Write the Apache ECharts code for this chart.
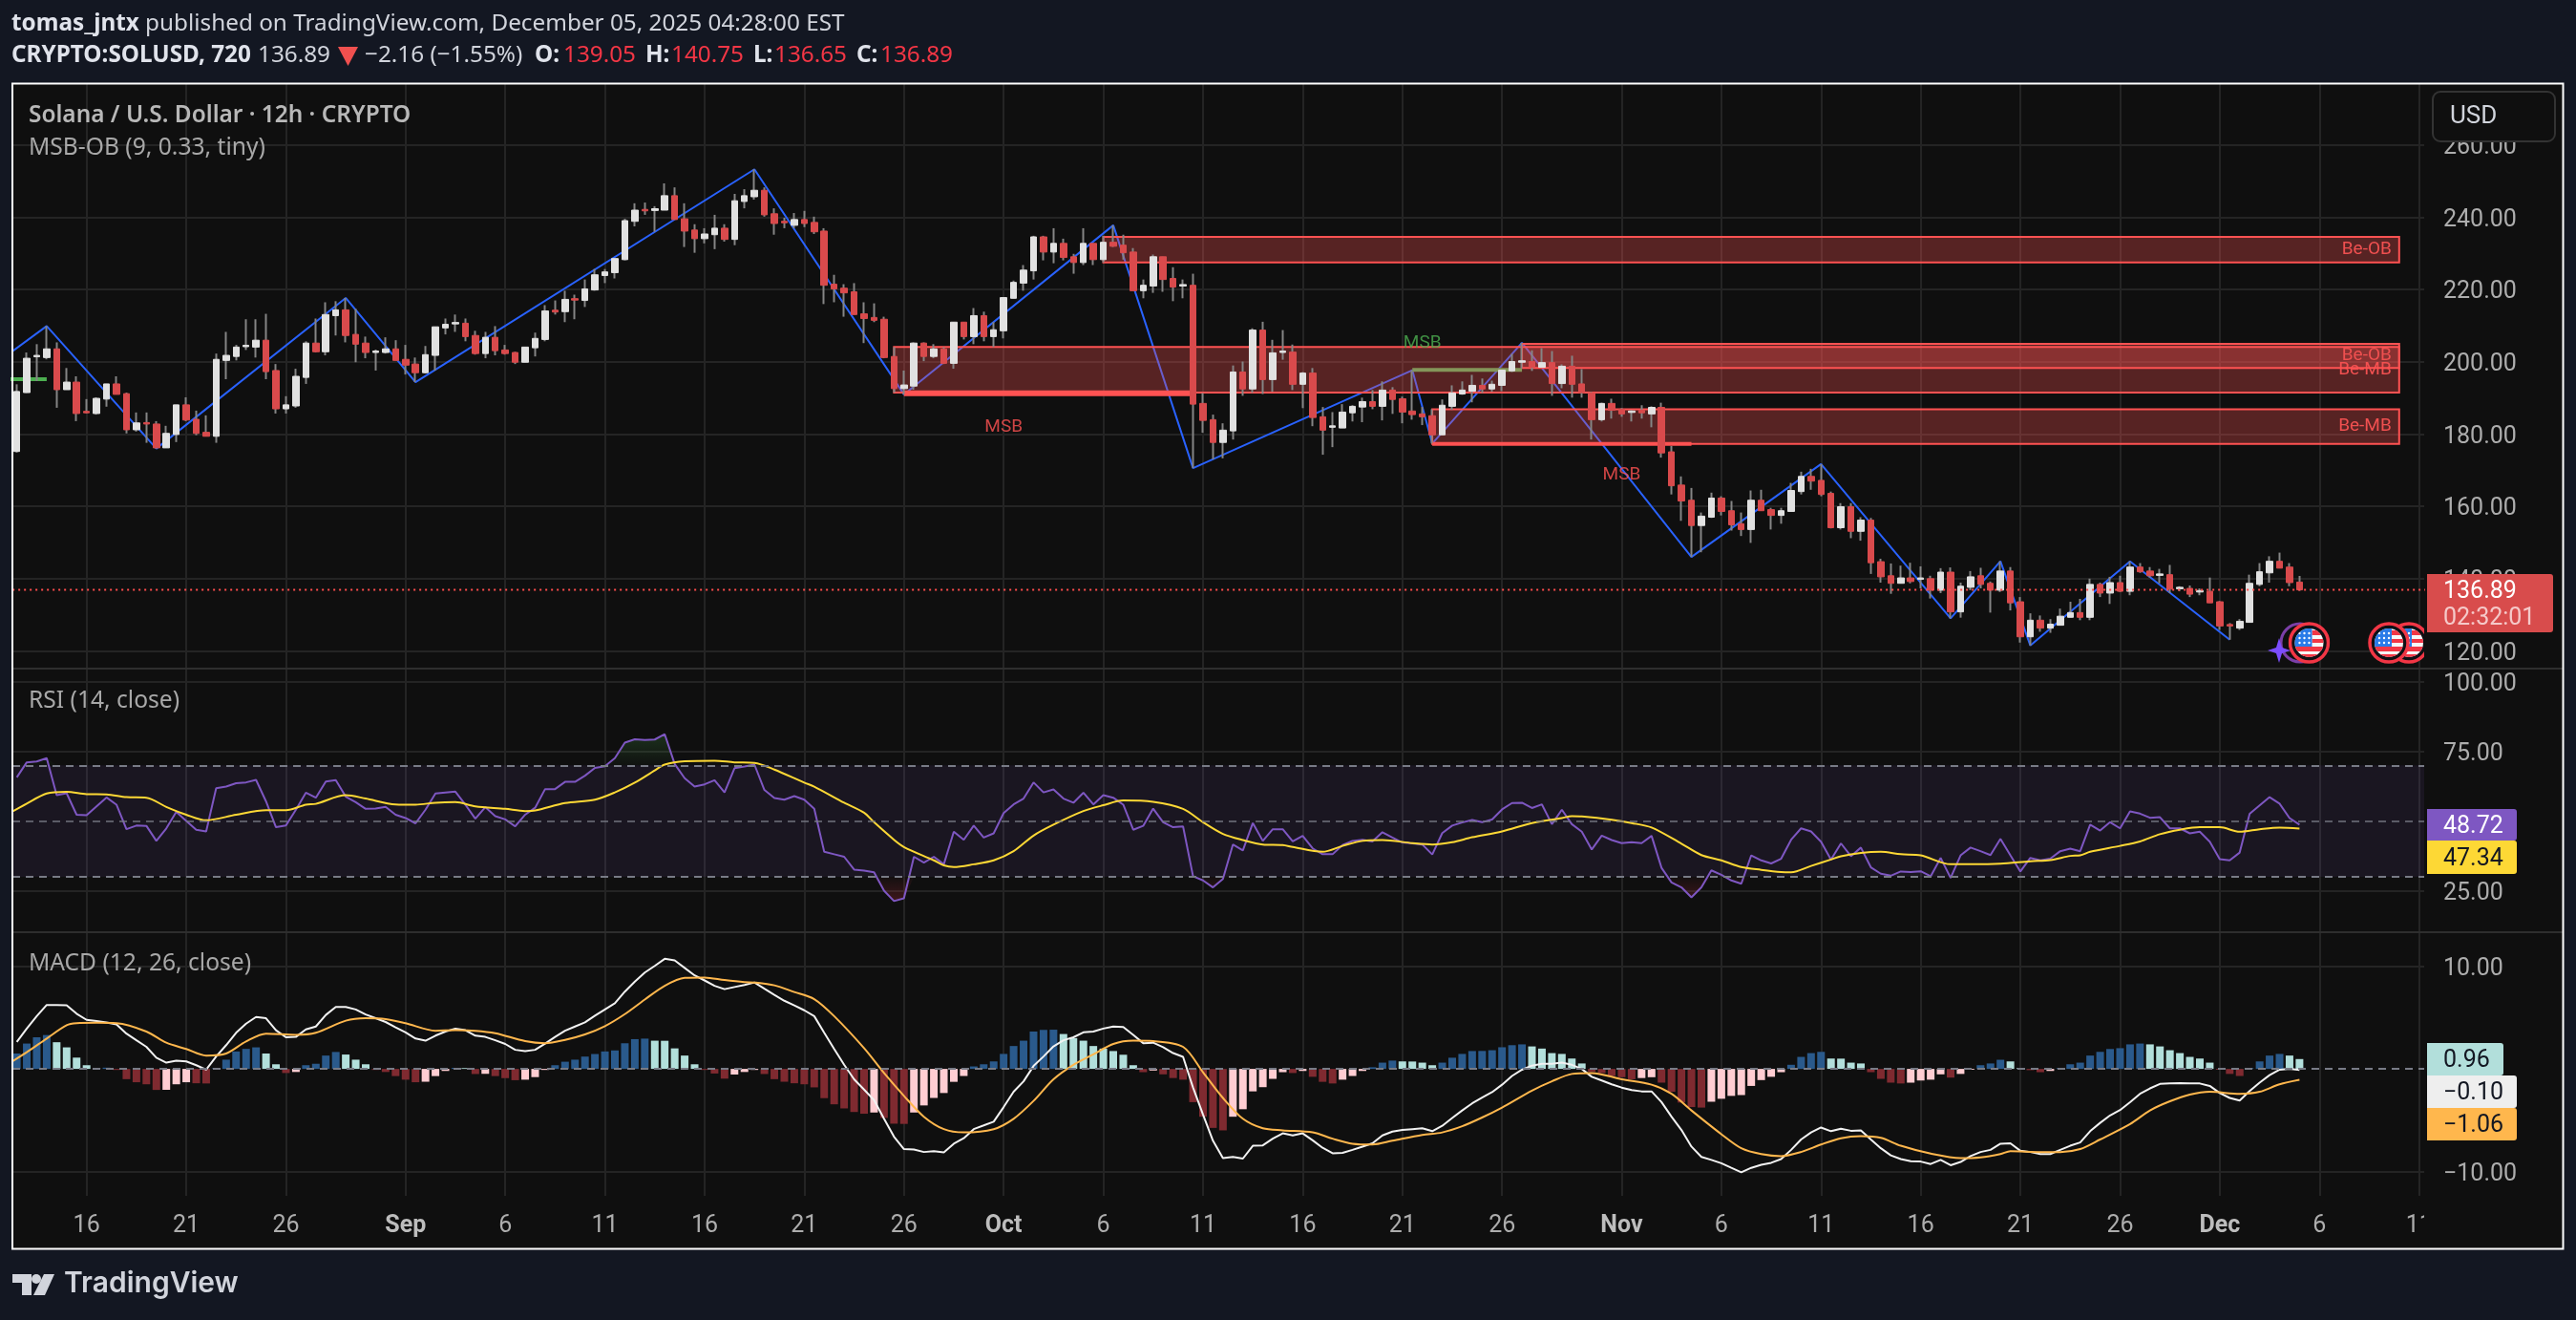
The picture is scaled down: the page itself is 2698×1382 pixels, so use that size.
<!DOCTYPE html>
<html>
<head>
<meta charset="utf-8">
<title>SOLUSD 12h</title>
<style>
  html, body { margin: 0; padding: 0; background: #131722; }
  #chart { width: 2698px; height: 1382px; }
</style>
</head>
<body>
<div id="chart"></div>
<script src="https://cdn.jsdelivr.net/npm/echarts@6/dist/echarts.min.js"></script>
<script>
// bars run from -7 to 222, bar 0 is Aug 16, two bars per day
var firstBar = -7;

var opens = [
  175.2,191.5,201.4,201.2,203.6,192.3,194.4,
  186.3,185.7,189.7,193.9,191.2,181.2,183.2,182.8,176.2,179.9,
  188.1,184.1,180.5,179.4,200.4,201.5,204.2,204.1,206.0,197.6,
  187.0,187.8,195.7,205.2,202.8,212.8,214.4,207.6,205.2,202.6,
  202.6,203.6,200.7,199.4,197.0,201.8,209.4,210.5,210.7,207.3,
  202.3,206.8,203.3,202.6,199.9,203.9,206.2,214.3,213.9,217.5,
  217.0,219.9,223.9,224.7,228.3,238.9,242.2,241.9,242.0,246.0,
  239.6,236.5,234.1,235.2,237.0,233.9,244.4,245.7,247.5,241.0,
  238.9,237.8,239.4,238.6,236.2,221.5,220.4,219.4,213.3,212.3,
  211.8,201.5,192.6,193.3,205.2,201.5,203.6,199.6,211.0,207.0,
  212.8,207.0,208.6,217.6,221.8,225.2,234.6,230.4,232.8,229.1,
  227.5,232.8,228.3,233.1,232.3,230.4,219.7,221.0,229.1,223.1,
  221.0,221.2,188.5,184.0,177.7,180.9,197.2,192.5,208.8,195.1,
  202.6,202.7,193.8,196.9,184.8,181.9,181.7,185.9,187.5,189.0,
  187.7,192.2,189.8,186.4,185.6,185.1,179.8,187.7,191.1,191.9,
  193.5,192.5,193.5,197.5,199.9,200.1,198.5,199.8,194.0,198.8,
  193.9,191.4,184.0,188.5,186.9,186.0,186.6,185.6,187.4,175.1,
  165.9,161.7,154.7,157.0,162.3,158.8,155.2,153.6,161.7,159.1,
  157.5,158.6,164.1,168.3,167.2,163.6,154.1,159.9,153.1,156.2,
  144.7,140.8,138.7,140.2,139.8,140.0,136.8,141.8,130.8,137.6,
  140.8,138.7,136.8,142.1,133.6,123.9,128.5,126.3,127.1,129.3,
  130.6,129.3,138.4,136.0,138.9,136.5,143.2,142.1,140.9,141.1,
  137.2,137.3,136.3,136.5,133.6,127.3,126.3,127.9,138.4,141.6,
  144.8,143.2,139.05
];
var closes = [
  191.8,201.0,201.8,203.6,192.3,194.4,185.7,
  185.9,189.9,193.9,191.0,181.2,183.1,182.8,176.2,180.2,188.1,
  183.9,180.2,179.4,200.7,201.8,204.1,204.6,206.0,197.3,187.0,
  188.1,196.0,205.2,202.8,213.1,214.4,207.3,204.9,202.6,203.0,
  203.6,200.4,199.1,197.0,202.0,209.7,210.4,210.9,207.0,202.3,
  206.8,203.1,202.3,199.9,204.1,206.5,214.1,213.8,217.3,217.1,
  220.2,224.1,224.9,228.6,239.1,242.0,241.8,242.4,246.0,239.4,
  236.2,234.1,235.4,237.0,233.9,244.6,246.0,247.5,240.7,238.3,
  238.5,239.4,238.3,236.0,221.2,220.2,219.1,213.1,212.0,211.5,
  201.2,192.6,193.6,205.2,201.5,203.6,199.6,211.0,207.0,212.8,
  207.0,208.9,217.8,222.0,225.4,234.6,230.4,232.8,228.9,227.5,
  232.8,228.3,233.1,232.0,230.2,219.7,221.2,229.1,222.8,220.7,
  221.4,188.3,183.8,177.7,181.1,197.2,192.5,208.8,195.1,202.5,
  203.0,193.8,196.9,184.6,181.1,182.3,186.1,187.7,189.0,187.7,
  192.2,189.6,186.1,185.4,184.8,179.8,188.0,191.4,192.2,193.5,
  192.5,193.8,197.7,200.1,200.3,198.5,199.8,194.0,198.8,193.8,
  191.5,184.0,188.5,186.6,185.6,186.4,185.9,187.4,174.8,165.7,
  161.5,154.7,157.3,162.3,158.6,154.9,153.6,161.7,158.8,157.5,
  158.8,164.4,168.3,167.0,163.3,154.1,159.9,153.1,156.2,144.4,
  140.5,138.7,140.2,139.2,140.2,136.8,141.8,130.8,137.9,140.5,
  138.4,136.8,142.1,133.3,123.9,128.5,126.3,127.4,129.6,130.6,
  129.3,138.4,136.0,138.9,136.5,143.2,141.9,140.8,141.3,137.1,
  137.6,135.7,136.7,133.3,126.9,126.9,128.2,138.7,141.9,144.8,
  142.9,138.9,136.89
];
var lows = [
  174.9,191.4,194.7,200.7,187.3,192.3,183.6,
  185.7,185.4,187.6,191.0,180.2,180.7,177.6,176.0,176.2,177.8,
  183.6,179.7,179.4,177.6,195.2,200.4,203.3,201.2,195.2,185.7,
  185.7,187.3,193.9,202.6,201.8,207.3,205.4,199.9,201.0,197.6,
  202.3,200.4,196.5,194.4,196.8,197.6,207.6,208.3,205.7,202.0,
  201.0,201.8,202.0,199.4,199.9,201.5,205.7,213.1,211.0,211.8,
  215.2,219.7,221.8,223.1,228.1,237.5,240.7,236.0,242.0,239.4,
  231.8,230.2,232.8,231.2,233.3,232.3,242.5,244.9,240.2,235.2,
  237.0,237.0,237.3,235.4,216.0,216.5,212.5,213.1,205.2,211.0,
  201.0,191.5,191.0,192.3,200.2,201.0,199.4,198.1,206.2,204.9,
  205.7,204.1,206.5,217.6,219.7,222.8,228.1,227.3,228.1,224.4,
  226.8,226.8,227.5,231.8,228.3,219.7,217.6,219.1,219.4,216.8,
  217.6,170.6,180.4,173.0,173.3,178.5,190.6,191.4,191.1,191.7,
  200.6,192.2,187.2,182.2,174.3,176.4,181.7,183.5,183.3,186.9,
  183.8,185.6,183.0,184.0,182.5,177.4,179.8,186.7,190.9,188.8,
  191.4,191.7,191.9,197.2,198.2,197.5,198.5,190.6,192.7,190.1,
  190.1,178.5,183.5,184.3,184.8,183.5,184.3,181.9,173.5,163.3,
  156.0,146.0,147.3,156.8,157.5,153.3,151.8,149.9,158.8,153.6,
  155.2,158.6,163.3,164.6,162.8,153.9,153.6,151.2,150.5,141.3,
  138.9,135.8,138.7,138.7,137.3,134.5,136.0,129.0,129.2,136.8,
  137.3,130.6,136.3,131.2,122.3,121.5,125.3,125.0,127.1,129.3,
  128.5,128.5,134.9,133.0,136.3,135.4,141.6,140.3,138.7,136.0,
  136.5,134.9,135.4,133.3,125.8,123.1,125.8,127.9,137.9,138.9,
  142.9,137.9,136.65
];
var highs = [
  193.8,202.6,204.9,209.9,205.4,198.3,196.0,
  189.7,190.2,193.9,196.0,191.5,186.0,186.0,183.6,182.3,188.1,
  190.2,186.5,185.2,202.3,208.3,204.7,211.8,211.8,213.3,199.4,
  190.5,198.1,205.7,212.0,216.5,216.8,217.7,214.7,207.0,203.4,
  206.8,206.0,204.7,201.2,204.4,209.7,212.0,213.1,212.0,208.6,
  208.3,209.9,204.7,202.8,204.1,208.1,215.7,217.0,219.7,218.6,
  222.8,225.7,225.7,228.6,239.6,243.9,244.1,243.1,249.4,248.3,
  243.9,238.1,237.0,240.7,238.1,246.5,247.8,253.3,248.3,242.5,
  239.9,241.2,241.8,240.2,237.0,224.1,221.5,221.8,216.5,216.2,
  212.5,204.1,197.6,205.4,205.4,204.9,204.1,211.0,211.0,214.9,
  213.9,211.0,217.8,222.5,226.8,234.9,234.9,237.0,234.1,229.9,
  237.0,232.8,234.9,237.8,235.2,231.5,222.8,229.7,229.1,226.2,
  222.8,224.4,191.4,185.4,183.0,199.0,200.1,209.3,211.1,206.1,
  208.8,204.8,197.2,198.3,187.5,186.1,188.3,188.0,190.1,192.2,
  194.6,193.0,190.4,197.7,187.5,186.9,189.6,193.5,194.6,196.4,
  195.4,194.8,197.7,202.2,205.3,203.2,203.8,203.0,199.3,201.7,
  198.0,191.7,188.7,189.8,187.2,186.6,188.0,187.7,188.7,176.7,
  168.3,165.1,158.3,163.8,162.8,161.5,158.3,164.4,164.6,159.6,
  159.6,166.5,169.6,170.4,171.7,164.1,160.9,160.9,157.0,156.8,
  145.5,144.2,143.6,144.4,143.4,140.8,142.9,143.1,138.9,142.1,
  143.0,139.2,144.8,143.2,134.9,130.4,129.8,128.8,131.7,133.6,
  134.4,140.0,138.9,140.5,140.8,144.8,144.3,143.2,142.7,143.8,
  137.9,138.1,137.3,140.3,133.8,127.7,128.8,141.1,144.3,146.2,
  147.2,144.3,140.75
];

// MSB-OB zigzag pivots
var zigzagBars = [-8,-4,7,26,33,67,82,103,111,133,135,144,161,174,187,192,195,205,215];
var zigzagPrices = [201.8,209.9,176.0,217.7,194.4,253.3,191.0,237.8,170.6,197.7,177.4,205.3,146.0,171.7,129.0,144.8,121.5,144.8,123.1];

// MSB-OB zones
var zoneLeft = [102,81,144,135];
var zoneRight = [232,232,232,232];
var zoneTop = [234.6,204.1,205.0,186.9];
var zoneBottom = [227.5,191.5,198.3,177.3];
var zoneLabels = ['Be-OB','Be-MB','Be-OB','Be-MB'];

var bearBreakBars = [[82,111],[135,161]];
var bearBreakPrices = [191.3,177.3];
var bullBreakBars = [[-8,-4],[133,144]];
var bullBreakPrices = [195.2,197.8];
var msbRedBars = [92,154];
var msbRedPrices = [181.8,168.7];
var msbGreenBars = [134];
var msbGreenPrices = [205.2];
var lastPrice = 136.89;

var rsiValues = [
  65.7,71.1,71.4,72.6,59.3,60.0,52.3,
  52.1,55.3,58.5,55.9,47.1,48.4,48.3,42.9,47.4,53.3,
  50.1,46.9,46.3,61.8,62.4,63.6,63.9,64.8,57.1,47.8,
  48.4,54.1,60.2,58.4,64.2,64.7,58.8,56.8,54.4,54.5,
  55.1,52.3,51.1,49.2,54.1,59.9,60.3,60.6,55.9,50.9,
  55.0,51.8,50.6,48.1,52.3,54.8,61.5,61.5,64.1,64.1,
  66.3,69.1,69.7,72.6,78.2,79.4,79.1,79.3,81.2,70.5,
  65.4,62.4,63.2,64.7,60.3,69.0,69.6,70.3,61.2,58.3,
  57.7,59.0,57.7,54.4,39.0,38.1,37.2,32.6,32.2,31.6,
  25.0,21.3,22.3,37.2,35.1,37.2,34.5,46.2,43.3,48.4,
  44.1,45.6,52.9,56.0,58.1,63.9,60.3,61.4,58.1,56.6,
  60.2,56.0,59.3,58.4,55.9,46.9,48.3,54.5,49.6,47.8,
  48.1,30.2,28.7,26.2,29.2,41.6,39.5,49.3,42.9,47.1,
  47.1,42.7,44.7,40.2,38.1,38.1,41.4,42.9,43.3,42.7,
  46.0,44.1,42.3,42.0,41.6,38.0,45.7,48.4,49.5,50.4,
  49.6,50.6,54.2,56.5,56.6,54.7,56.0,48.9,54.1,48.9,
  46.2,39.8,44.8,43.2,42.1,42.4,42.1,44.7,33.2,28.0,
  26.2,22.6,26.2,32.3,30.7,28.7,27.5,37.7,35.9,34.8,
  36.5,43.3,47.4,46.3,42.6,36.2,42.0,37.4,40.5,33.4,
  31.1,30.4,31.9,31.7,32.0,30.2,36.8,29.6,37.7,40.5,
  39.2,37.8,43.6,37.7,31.9,36.8,35.9,36.5,39.2,40.1,
  39.2,48.7,46.6,49.6,47.4,53.5,52.7,51.2,51.4,47.4,
  47.4,45.6,46.2,42.6,36.3,35.9,38.7,52.6,55.6,58.6,
  56.3,51.1,48.72
];

var rsiMaBars = [-8,-6,-4,-2,0,2,4,6,8,10,12,15,18,20,22,23,26,28,31,33,35,37,39,42,44,45,48,51,53,55,57,58,60,63,65,67,69,72,73,76,78,79,81,82,85,86,87,89,91,93,95,97,100,102,104,107,110,112,114,116,118,120,121,124,126,128,130,133,135,137,139,142,145,148,149,150,153,155,157,160,162,164,166,168,170,171,173,175,176,178,180,182,184,187,189,192,195,197,199,200,201,204,206,208,210,212,214,216,218,220,222];
var rsiMaValues = [52.3,56.3,59.9,60.5,59.7,59.6,58.6,58.4,55.1,52.3,50.3,52.3,53.9,53.9,55.9,56.2,59.3,58.1,56.0,55.9,56.6,56.8,55.3,54.4,53.6,53.8,56.5,57.7,60.3,63.8,68.2,70.3,71.5,71.7,71.1,70.9,68.5,63.8,62.4,56.6,53.0,49.6,43.3,40.7,35.9,34.1,33.5,34.5,35.9,39.2,44.8,48.7,53.6,55.7,57.4,56.9,54.4,49.6,45.4,43.2,41.6,41.4,40.7,39.0,41.1,42.9,43.2,42.1,41.6,42.4,44.2,46.3,49.3,51.1,51.8,51.7,50.5,49.3,47.7,41.9,37.8,35.9,33.5,32.5,31.7,31.6,33.9,36.2,37.4,38.6,39.0,38.1,37.7,34.5,34.5,34.7,35.6,36.0,37.5,37.7,39.0,41.1,42.7,45.3,46.9,47.8,47.8,46.2,47.1,47.7,47.34];

var macdValues = [
  2.63,3.93,5.14,6.23,6.23,6.19,5.38,
  4.78,4.66,4.53,4.33,3.44,2.79,2.15,1.09,0.61,0.81,
  0.73,0.36,-0.08,1.21,2.31,3.52,4.41,5.06,4.94,3.77,
  3.08,3.12,3.85,4.13,5.26,6.03,6.03,5.79,5.30,4.94,
  4.57,4.05,3.56,2.96,2.75,3.24,3.64,3.93,3.77,3.24,
  3.12,2.79,2.43,1.86,1.74,1.86,2.47,3.12,3.72,4.13,
  4.53,5.18,5.79,6.40,7.53,8.50,9.39,10.04,10.73,10.57,
  9.84,9.11,8.62,8.10,7.77,7.98,8.18,8.42,7.81,7.21,
  6.64,6.19,5.71,5.14,3.52,1.94,0.40,-1.01,-2.02,-3.04,
  -4.86,-6.60,-7.81,-7.85,-8.10,-8.02,-8.14,-7.29,-6.76,-5.87,
  -5.51,-5.14,-3.72,-2.23,-1.21,0.28,1.21,2.19,2.79,3.08,
  3.56,3.64,3.93,4.13,4.09,3.32,2.51,2.55,2.11,1.54,
  1.17,-1.82,-4.45,-7.00,-8.70,-8.58,-8.74,-7.49,-7.45,-6.80,
  -6.28,-6.48,-6.28,-6.96,-7.69,-8.22,-8.18,-7.89,-7.57,-7.25,
  -6.48,-6.11,-5.95,-5.87,-5.79,-6.07,-5.55,-4.78,-4.05,-3.36,
  -2.79,-2.27,-1.54,-0.69,-0.08,0.32,0.49,0.49,0.61,0.40,
  0.00,-0.77,-1.13,-1.50,-1.82,-2.06,-2.19,-2.19,-3.24,-4.66,
  -5.95,-7.57,-8.58,-8.87,-9.19,-9.64,-10.08,-9.64,-9.35,-9.15,
  -8.79,-7.89,-6.88,-6.19,-5.71,-6.07,-5.83,-6.03,-5.99,-6.88,
  -7.73,-8.42,-8.79,-8.99,-9.03,-9.27,-8.87,-9.39,-9.07,-8.50,
  -8.10,-7.89,-7.29,-7.25,-7.98,-8.10,-8.30,-8.30,-7.89,-7.49,
  -7.17,-6.07,-5.26,-4.53,-4.01,-3.24,-2.43,-1.90,-1.46,-1.42,
  -1.38,-1.42,-1.42,-1.66,-2.35,-2.83,-3.08,-2.15,-1.34,-0.61,
  -0.08,0.00,-0.10
];

var signalBars = [-8,-6,-4,-2,-1,1,3,6,8,10,12,14,16,18,21,23,26,28,30,32,35,37,39,41,44,46,48,50,52,54,56,58,60,62,64,66,67,69,71,73,75,78,80,82,84,86,88,91,93,95,97,99,101,103,105,107,110,112,114,116,118,120,123,125,127,129,131,134,136,138,140,142,145,147,149,151,154,157,159,161,164,166,168,170,172,174,176,178,180,182,185,188,190,192,193,196,198,200,202,205,207,209,211,213,216,218,220,222];
var signalValues = [0.40,1.62,2.96,4.25,4.45,4.49,4.45,3.64,2.55,1.94,1.30,1.50,2.67,3.44,3.32,3.52,4.70,4.94,4.86,4.45,3.72,3.77,3.72,3.48,2.71,2.51,2.83,3.36,4.17,5.34,6.76,8.10,8.87,8.91,8.66,8.46,8.42,8.14,7.49,6.80,5.14,2.02,-0.40,-2.63,-4.66,-5.87,-6.19,-5.87,-4.86,-3.12,-1.01,0.40,1.42,2.43,2.75,2.71,2.15,-0.32,-2.83,-4.86,-5.79,-5.99,-6.19,-6.80,-7.29,-7.37,-7.00,-6.44,-6.19,-5.59,-4.74,-3.77,-2.11,-1.21,-0.49,-0.40,-1.01,-1.54,-2.43,-4.05,-6.36,-7.73,-8.30,-8.50,-8.10,-7.37,-6.76,-6.56,-6.72,-7.49,-8.26,-8.70,-8.62,-8.30,-8.02,-8.10,-8.10,-7.81,-6.88,-5.38,-4.05,-3.16,-2.51,-2.23,-2.43,-2.23,-1.50,-1.06];

var histValues = [
  1.50,2.47,3.08,3.30,2.60,2.10,1.10,
  0.36,0.10,0.12,-0.10,-1.00,-1.30,-1.50,-2.05,-2.04,-1.50,
  -1.30,-1.40,-1.42,0.10,0.90,1.70,1.95,2.10,1.50,0.45,
  -0.40,-0.30,0.36,0.50,1.30,1.65,1.40,0.90,0.45,-0.10,
  -0.30,-0.70,-1.05,-1.30,-1.25,-0.70,-0.20,0.10,0.08,-0.50,
  -0.48,-0.70,-0.90,-1.10,-1.05,-0.80,-0.10,0.36,0.70,0.90,
  1.20,1.45,1.70,1.80,2.50,2.90,2.95,2.75,2.74,2.00,
  1.30,0.45,-0.10,-0.45,-0.95,-0.55,-0.30,-0.10,-0.50,-1.00,
  -1.25,-1.40,-1.50,-1.80,-2.85,-3.45,-3.85,-4.20,-4.37,-4.25,
  -4.78,-5.34,-5.36,-4.25,-3.56,-2.83,-2.35,-1.26,-0.69,0.24,
  0.45,0.73,1.46,2.23,2.75,3.64,3.80,3.82,3.40,3.00,
  2.75,2.23,1.98,1.74,1.38,0.36,-0.32,-0.16,-0.53,-0.89,
  -1.05,-3.24,-4.66,-5.75,-5.99,-4.66,-3.93,-2.19,-1.78,-0.97,
  -0.32,-0.40,-0.20,-0.77,-1.26,-1.42,-1.05,-0.69,-0.20,0.16,
  0.61,0.81,0.73,0.72,0.61,0.36,0.61,1.09,1.46,1.74,
  1.75,1.82,2.11,2.31,2.39,2.19,1.98,1.54,1.46,1.01,
  0.53,-0.28,-0.40,-0.69,-0.81,-1.01,-0.89,-0.81,-1.34,-2.23,
  -3.28,-3.72,-3.77,-3.20,-2.91,-2.63,-2.55,-1.66,-1.09,-0.77,
  -0.32,0.40,1.17,1.54,1.66,1.01,1.00,0.61,0.53,-0.32,
  -0.97,-1.34,-1.42,-1.34,-1.13,-1.05,-0.53,-0.85,-0.49,-0.08,
  0.36,0.53,0.89,0.73,0.08,-0.12,-0.32,-0.20,0.08,0.45,
  0.61,1.30,1.66,1.94,2.02,2.39,2.47,2.39,2.19,1.82,
  1.54,1.17,1.01,0.61,-0.08,-0.49,-0.69,0.08,0.73,1.30,
  1.46,1.30,0.96
];

var timeTicks = [0,10,20,32,42,52,62,72,82,92,102,112,122,132,142,154,164,174,184,194,204,214,224,234];
var timeLabels = ['16','21','26','Sep','6','11','16','21','26','Oct','6','11','16','21','26','Nov','6','11','16','21','26','Dec','6','11'];
var priceTicks = [120,140,160,180,200,220,240,260];
var rsiTicks = [25,75,100];
var macdTicks = [-10,10];

var bg = '#0f0f0f';
var gridColor = '#242424';
var axisText = '#adadad';
var uiFont = '"Noto Sans", sans-serif';
var axisFont = 'Roboto, sans-serif';
var zoneRed = '#ff5252';

var barIndex = opens.map(function (v, i) { return firstBar + i; });
var wickData = barIndex.map(function (b, i) { return [b, opens[i], closes[i], lows[i], highs[i]]; });
var bodyData = barIndex.map(function (b, i) {
  return [b, opens[i], closes[i], Math.min(opens[i], closes[i]), Math.max(opens[i], closes[i])];
});
function pairs(xs, ys) { return xs.map(function (x, i) { return [x, ys[i]]; }); }
function byBar(ys) { return pairs(barIndex, ys); }
function fmt(v) { return '{a|' + v.toFixed(2).replace('-', '\u2212') + '}'; }

function xAxisFor(gridIndex, withLabels) {
  return {
    type: 'value', gridIndex: gridIndex, min: -7.44, max: 234.51,
    axisLine: { show: false },
    axisTick: { show: false, customValues: timeTicks },
    splitLine: { show: true, lineStyle: { color: gridColor, width: 2 } },
    axisLabel: {
      show: withLabels, customValues: timeTicks, margin: 19, color: axisText,
      fontFamily: axisFont, fontSize: 25,
      formatter: function (v) {
        var s = timeLabels[timeTicks.indexOf(v)];
        return /[a-z]/.test(s) ? '{m|' + s + '}' : s;
      },
      rich: { m: { fontFamily: axisFont, fontSize: 25, fontWeight: 'bold', color: '#bdbdbd' } }
    }
  };
}
function yAxisFor(gridIndex, min, max, ticks) {
  return {
    type: 'value', gridIndex: gridIndex, position: 'right', min: min, max: max,
    axisLine: { show: false },
    axisTick: { show: false, customValues: ticks },
    splitLine: { show: true, lineStyle: { color: gridColor, width: 2 } },
    // top padding nudges the text down to where the reference has it
    axisLabel: {
      customValues: ticks, margin: 20, formatter: fmt,
      rich: { a: { color: axisText, fontFamily: axisFont, fontSize: 25, padding: [6, 0, 0, 0] } }
    }
  };
}
function levelLine(bars, price, color, width, name) {
  return {
    name: name, type: 'line', data: [[bars[0], price], [bars[1], price]],
    symbol: 'none', z: 3, lineStyle: { color: color, width: width, cap: 'butt' }
  };
}
function msbLabels(bars, prices, color, name) {
  return {
    name: name, type: 'scatter', data: pairs(bars, prices), symbolSize: 1, z: 6,
    itemStyle: { color: 'rgba(0,0,0,0)' },
    label: { show: true, position: 'inside', formatter: 'MSB', color: color, fontFamily: axisFont, fontSize: 19 }
  };
}
function dashLevel(value, opacity) {
  return { yAxis: value, lineStyle: { color: '#787b86', width: 2, type: [8, 6], opacity: opacity } };
}

var series = [
  {
    name: 'Zigzag', type: 'line', data: pairs(zigzagBars, zigzagPrices), symbol: 'none', z: 1,
    lineStyle: { color: '#2962ff', width: 2 }
  },
  {
    name: 'Zones', type: 'custom', z: 2, data: zoneLeft.map(function (l, i) { return [l, zoneRight[i], zoneTop[i], zoneBottom[i], zoneLabels[i]]; }),
    encode: { x: [0, 1], y: [2, 3] },
    renderItem: function (params, api) {
      var a = api.coord([api.value(0), api.value(2)]);
      var b = api.coord([api.value(1), api.value(3)]);
      return {
        type: 'group',
        children: [
          { type: 'rect', shape: { x: a[0], y: a[1], width: b[0] - a[0], height: b[1] - a[1] },
            style: { fill: 'rgba(255,82,82,0.3)', stroke: zoneRed, lineWidth: 2 } },
          { type: 'text', style: { x: b[0] - 8, y: (a[1] + b[1]) / 2, text: zoneLabels[params.dataIndex],
            fill: '#f05050', font: '19px Roboto, sans-serif', textAlign: 'right', textVerticalAlign: 'middle' } }
        ]
      };
    }
  },
  levelLine(bearBreakBars[0], bearBreakPrices[0], zoneRed, 6, 'Bear break 1'),
  levelLine(bearBreakBars[1], bearBreakPrices[1], zoneRed, 4, 'Bear break 2'),
  levelLine(bullBreakBars[0], bullBreakPrices[0], '#4caf50', 4, 'Bull break 1'),
  levelLine(bullBreakBars[1], bullBreakPrices[1], '#84965a', 4, 'Bull break 2'),
  // two candlestick layers so the wicks can stay grey under coloured bodies
  {
    name: 'Wicks', type: 'candlestick', data: wickData, z: 4, barWidth: 1,
    encode: { x: 0, y: [1, 2, 3, 4] },
    itemStyle: { color: '#858585', color0: '#858585', borderColor: '#858585', borderColor0: '#858585', borderWidth: 2 }
  },
  {
    name: 'SOLUSD', type: 'candlestick', data: bodyData, z: 5, barWidth: 7,
    encode: { x: 0, y: [1, 2, 3, 4] },
    itemStyle: { color: '#e1e1e1', color0: '#d94a4c', borderColor: '#e1e1e1', borderColor0: '#d94a4c', borderWidth: 1 }
  },
  msbLabels(msbRedBars, msbRedPrices, '#ff5252', 'MSB red'),
  msbLabels(msbGreenBars, msbGreenPrices, '#4caf50', 'MSB green'),
  {
    name: 'Last', type: 'line', data: [[-8, lastPrice], [235, lastPrice]], symbol: 'none', z: 6,
    lineStyle: { color: '#ff4d4d', width: 2, type: [2, 4] }
  },
  // RSI pane
  {
    name: 'Overbought', type: 'line', xAxisIndex: 1, yAxisIndex: 1, symbol: 'none', z: 1,
    data: byBar(rsiValues.map(function (v) { return Math.max(v, 70); })),
    lineStyle: { width: 0 },
    areaStyle: { origin: 70, color: new echarts.graphic.LinearGradient(0, 0, 0, 1, [
      { offset: 0, color: 'rgba(76,175,80,0.3)' }, { offset: 1, color: 'rgba(76,175,80,0.03)' }]) }
  },
  {
    name: 'Oversold', type: 'line', xAxisIndex: 1, yAxisIndex: 1, symbol: 'none', z: 1,
    data: byBar(rsiValues.map(function (v) { return Math.min(v, 30); })),
    lineStyle: { width: 0 },
    areaStyle: { origin: 30, color: new echarts.graphic.LinearGradient(0, 0, 0, 1, [
      { offset: 0, color: 'rgba(242,54,69,0.03)' }, { offset: 1, color: 'rgba(242,54,69,0.3)' }]) }
  },
  {
    name: 'RSI', type: 'line', xAxisIndex: 1, yAxisIndex: 1, data: byBar(rsiValues), symbol: 'none', z: 3,
    lineStyle: { color: '#7e57c2', width: 2 },
    markArea: { silent: true, itemStyle: { color: 'rgba(126,87,194,0.1)' }, data: [[{ yAxis: 30 }, { yAxis: 70 }]] },
    markLine: { silent: true, symbol: 'none', label: { show: false }, animation: false,
      data: [dashLevel(70, 1), dashLevel(50, 0.7), dashLevel(30, 1)] }
  },
  {
    name: 'RSI MA', type: 'line', xAxisIndex: 1, yAxisIndex: 1, data: pairs(rsiMaBars, rsiMaValues), symbol: 'none', z: 4, smooth: 0.3,
    lineStyle: { color: '#fdd835', width: 2 }
  },
  // MACD pane
  {
    name: 'Histogram', type: 'bar', xAxisIndex: 2, yAxisIndex: 2, data: byBar(histValues), barWidth: 8, z: 2,
    itemStyle: {
      color: function (p) {
        var v = histValues[p.dataIndex];
        var prev = p.dataIndex > 0 ? histValues[p.dataIndex - 1] : 0;
        if (v >= 0) return v >= prev ? '#2a5a8c' : '#b2dfdb';
        return v <= prev ? '#7f2a30' : '#ffcdd2';
      }
    },
    markLine: { silent: true, symbol: 'none', label: { show: false }, animation: false, data: [dashLevel(0, 1)] }
  },
  {
    name: 'MACD', type: 'line', xAxisIndex: 2, yAxisIndex: 2, data: byBar(macdValues), symbol: 'none', z: 3,
    lineStyle: { color: '#f2f2f2', width: 2 }
  },
  {
    name: 'Signal', type: 'line', xAxisIndex: 2, yAxisIndex: 2, data: pairs(signalBars, signalValues), symbol: 'none', z: 4, smooth: 0.3,
    lineStyle: { color: '#ffb74d', width: 2 }
  }
];

function text(x, y, str, fill, size, weight, font, z) {
  return { type: 'text', x: x, y: y, z: z || 50, silent: true,
    style: { text: str, fill: fill, font: (weight || 'normal') + ' ' + size + 'px ' + (font || uiFont), textVerticalAlign: 'middle' } };
}
function tag(x0, x1, y0, y1, fill, str, color) {
  return [
    { type: 'rect', z: 60, silent: true, shape: { x: x0, y: y0, width: x1 - x0, height: y1 - y0, r: [0, 3, 3, 0] }, style: { fill: fill } },
    text(2559, (y0 + y1) / 2 + 2, str, color, 25, 'normal', axisFont, 61)
  ];
}
function coinUri(cropWidth) {
  var stars = '';
  [[12, 12], [17, 12], [22, 12], [12, 17], [17, 17], [22, 17], [12, 22], [17, 22], [22, 22]].forEach(function (p) {
    stars += '<circle cx="' + p[0] + '" cy="' + p[1] + '" r="1.2" fill="#fff"/>';
  });
  var svg = '<svg xmlns="http://www.w3.org/2000/svg" width="' + cropWidth + '" height="44" viewBox="0 0 ' + cropWidth + ' 44">' +
    '<defs><clipPath id="c"><circle cx="22" cy="22" r="15"/></clipPath></defs>' +
    '<circle cx="22" cy="22" r="20" fill="#101014" stroke="#f23645" stroke-width="3.5"/>' +
    '<g clip-path="url(#c)"><rect x="0" y="0" width="44" height="44" fill="#f7f7f7"/>' +
    '<rect x="0" y="26" width="44" height="5" fill="#f23645"/><rect x="0" y="34" width="44" height="6" fill="#f23645"/>' +
    '<rect x="25" y="9" width="20" height="5" fill="#f23645"/><rect x="25" y="18" width="20" height="4" fill="#f23645"/>' +
    '<rect x="0" y="0" width="25" height="26" fill="#2a7be8"/>' + stars + '</g></svg>';
  return 'data:image/svg+xml;charset=utf-8,' + encodeURIComponent(svg);
}
function coin(cx, cropWidth) {
  return { type: 'image', z: 40, silent: true, style: { image: coinUri(cropWidth), x: cx - 22, y: 651, width: cropWidth, height: 44 } };
}

var headFont = 24.3;
var headBold = '#e0e3eb';
var headText = '#d1d4dc';
var headRed = '#f23645';

var graphics = [
  { type: 'rect', z: -10, silent: true, shape: { x: 12, y: 87, width: 2673, height: 1221 }, style: { fill: bg } },
  { type: 'rect', z: 70, silent: true, shape: { x: 13, y: 87.5, width: 2671.5, height: 1220 }, style: { fill: 'none', stroke: '#ffffff', lineWidth: 2 } },
  { type: 'line', z: 45, silent: true, shape: { x1: 13, y1: 700, x2: 2684, y2: 700 }, style: { stroke: '#2e2e2e', lineWidth: 2 } },
  { type: 'line', z: 45, silent: true, shape: { x1: 13, y1: 976, x2: 2684, y2: 976 }, style: { stroke: '#2e2e2e', lineWidth: 2 } },
  // hides the part of the last time label past the plot edge
  { type: 'rect', z: 45, silent: true, shape: { x: 2539, y: 1254, width: 144, height: 53 }, style: { fill: bg } },
  // header
  { type: 'text', x: 12, y: 25, z: 50, silent: true, style: {
      text: '{b|tomas_jntx}{n| published on TradingView.com, December 05, 2025 04:28:00 EST}',
      textVerticalAlign: 'middle',
      rich: {
        b: { fill: headBold, font: 'bold ' + headFont + 'px ' + uiFont },
        n: { fill: headText, font: 'normal ' + headFont + 'px ' + uiFont }
      } } },
  text(12, 58, 'CRYPTO:SOLUSD, 720', headBold, headFont, 'bold'),
  text(270, 58, '136.89', headText, headFont),
  { type: 'polygon', z: 50, silent: true, shape: { points: [[354, 49], [375, 49], [364.5, 69]] }, style: { fill: '#f0504f' } },
  text(382, 58, '\u22122.16 (\u22121.55%)', headText, headFont),
  text(560, 58, 'O:', headBold, headFont, 'bold'),
  text(590, 58, '139.05', headRed, headFont),
  text(676, 58, 'H:', headBold, headFont, 'bold'),
  text(703, 58, '140.75', headRed, headFont),
  text(789, 58, 'L:', headBold, headFont, 'bold'),
  text(811, 58, '136.65', headRed, headFont),
  text(897, 58, 'C:', headBold, headFont, 'bold'),
  text(922, 58, '136.89', headRed, headFont),
  // pane legends
  text(30, 121, 'Solana / U.S. Dollar \u00B7 12h \u00B7 CRYPTO', '#b8b8b8', 24.4, '600'),
  text(30, 155, 'MSB-OB (9, 0.33, tiny)', '#a8a8a8', 24.6),
  text(30, 734, 'RSI (14, close)', '#a8a8a8', 24.6),
  text(30, 1009, 'MACD (12, 26, close)', '#a8a8a8', 24.6),
  // currency button
  { type: 'rect', z: 60, silent: true, shape: { x: 2548, y: 96, width: 128, height: 52, r: 8 }, style: { fill: bg, stroke: '#333333', lineWidth: 2 } },
  text(2566, 122, 'USD', '#d1d4dc', 26, 'normal', axisFont, 61),
  // last price tag
  { type: 'rect', z: 60, silent: true, shape: { x: 2542, y: 601, width: 132, height: 61, r: [0, 3, 3, 0] }, style: { fill: '#d84c4c' } },
  text(2559, 620, '136.89', '#ffffff', 25, 'normal', axisFont, 61),
  text(2559, 648, '02:32:01', '#f5c9c9', 25, 'normal', axisFont, 61)
].concat(
  tag(2542, 2636, 847, 880, '#7e57c2', '48.72', '#ffffff'),
  tag(2542, 2636, 880, 915, '#fdd835', '47.34', '#131722'),
  tag(2542, 2622, 1092, 1126, '#b2dfdb', '0.96', '#131722'),
  tag(2542, 2636, 1126, 1160, '#eeeeee', '\u22120.10', '#131722'),
  tag(2542, 2636, 1160, 1194, '#ffb74d', '\u22121.06', '#131722'),
  [
    // economic event markers
    { type: 'circle', z: 39, silent: true, shape: { cx: 2409, cy: 673, r: 20 }, style: { fill: 'none', stroke: '#7b3fa8', lineWidth: 3 } },
    coin(2523, 38),
    coin(2502, 44),
    coin(2418.5, 44),
    { type: 'polygon', z: 41, silent: true, shape: { points: [[2387, 668], [2390, 678], [2399, 681], [2390, 684], [2387, 694], [2384, 684], [2375, 681], [2384, 678]] }, style: { fill: '#7c4dff' } },
    // logo
    { type: 'polygon', z: 50, silent: true, shape: { points: [[13, 1334], [33, 1334], [33, 1356], [23, 1356], [23, 1343], [13, 1343]] }, style: { fill: '#d1d4dc' } },
    { type: 'circle', z: 50, silent: true, shape: { cx: 38, cy: 1339, r: 5 }, style: { fill: '#d1d4dc' } },
    { type: 'polygon', z: 50, silent: true, shape: { points: [[46, 1334], [57, 1334], [47, 1356], [35, 1356]] }, style: { fill: '#d1d4dc' } },
    text(67, 1344, 'TradingView', '#d1d4dc', 30, '600', 'Inter, sans-serif')
  ]
);

var chart = echarts.init(document.getElementById('chart'));
chart.setOption({
  animation: false,
  backgroundColor: '#131722',
  grid: [
    { left: 13, top: 88, width: 2526, height: 612 },
    { left: 13, top: 700, width: 2526, height: 276 },
    { left: 13, top: 976, width: 2526, height: 276 }
  ],
  xAxis: [xAxisFor(0, false), xAxisFor(1, false), xAxisFor(2, true)],
  yAxis: [
    yAxisFor(0, 115.1, 276.9, priceTicks),
    yAxisFor(1, 10.1, 104.77, rsiTicks),
    yAxisFor(2, -12.37, 13.32, macdTicks)
  ],
  series: series,
  graphic: { elements: graphics }
});
</script>
</body>
</html>
